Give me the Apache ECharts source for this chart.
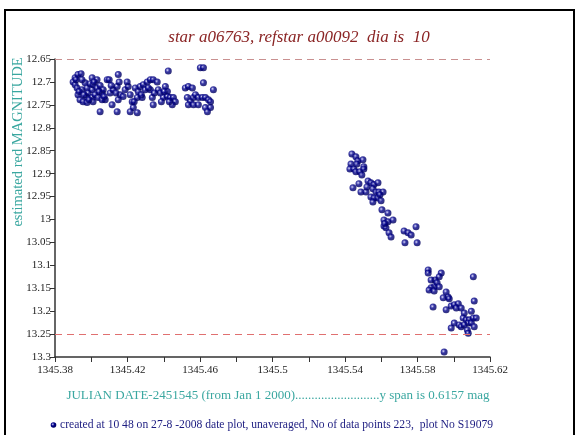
<!DOCTYPE html>
<html>
<head>
<meta charset="utf-8">
<script src="https://cdn.jsdelivr.net/npm/echarts@6/dist/echarts.min.js"></script>
<style>
	html, body { margin: 0; padding: 0; background: #fff; }
	#chart { width: 577px; height: 435px; }
</style>
</head>
<body>
<div id="chart"></div>
<script>
	// julian date - 2451545, estimated red magnitude
	var group1 = [
		[1345.3911,12.691],[1345.3927,12.684],[1345.3944,12.682],[1345.3900,12.700],[1345.3911,12.706],
		[1345.3922,12.713],[1345.3927,12.728],[1345.3949,12.717],[1345.3966,12.702],[1345.3977,12.713],
		[1345.3972,12.732],[1345.3983,12.724],[1345.3994,12.704],[1345.4005,12.717],[1345.4010,12.706],
		[1345.4005,12.734],[1345.4021,12.728],[1345.4032,12.713],[1345.4038,12.734],[1345.4049,12.708],
		[1345.4060,12.724],[1345.4066,12.717],[1345.4049,12.765],[1345.4077,12.739],[1345.4088,12.695],
		[1345.4099,12.695],[1345.4104,12.724],[1345.4121,12.717],[1345.4115,12.750],[1345.4143,12.710],
		[1345.4149,12.684],[1345.4154,12.700],[1345.4149,12.739],[1345.4143,12.765],[1345.4160,12.728],
		[1345.4187,12.717],[1345.4204,12.710],[1345.4215,12.728],[1345.4226,12.743],[1345.4232,12.756],
		[1345.4254,12.767],[1345.4243,12.713],[1345.4259,12.721],[1345.4270,12.710],[1345.4287,12.706],
		[1345.4298,12.717],[1345.4309,12.700],[1345.4326,12.695],[1345.4342,12.695],[1345.4364,12.700],
		[1345.4337,12.734],[1345.4342,12.750],[1345.4326,12.717],[1345.4370,12.717],[1345.4381,12.724],
		[1345.4409,12.710],[1345.4425,12.676],[1345.4420,12.721],[1345.4398,12.734],[1345.4420,12.732],
		[1345.4436,12.734],[1345.4453,12.734],[1345.4464,12.743],[1345.4447,12.750],[1345.4060,12.739],
		[1345.3938,12.739],[1345.3955,12.743],[1345.3977,12.745],[1345.4010,12.743],[1345.3949,12.695],
		[1345.4005,12.691],[1345.4032,12.695],[1345.4254,12.734],[1345.4281,12.734],[1345.4215,12.765],
		[1345.3916,12.695],[1345.3933,12.721],[1345.3960,12.728],[1345.3988,12.739],[1345.4016,12.700],
		[1345.4043,12.721],[1345.4071,12.732],[1345.4110,12.708],[1345.4137,12.724],[1345.4176,12.732],
		[1345.4198,12.700],[1345.4237,12.743],[1345.4276,12.728],[1345.4315,12.713],[1345.4348,12.724],
		[1345.4387,12.743],[1345.4403,12.721],[1345.4431,12.743]
	];
	var group2 = [
		[1345.4519,12.713],[1345.4536,12.710],[1345.4558,12.713],[1345.4530,12.734],[1345.4547,12.743],
		[1345.4564,12.734],[1345.4536,12.750],[1345.4564,12.750],[1345.4575,12.728],[1345.4591,12.734],
		[1345.4613,12.734],[1345.4630,12.734],[1345.4647,12.739],[1345.4602,12.669],[1345.4619,12.669],
		[1345.4619,12.702],[1345.4674,12.717],[1345.4630,12.756],[1345.4658,12.756],[1345.4641,12.765],
		[1345.4658,12.743],[1345.4591,12.750]
	];
	var group3 = [
		[1345.5438,12.857],[1345.5460,12.863],[1345.5471,12.872],[1345.5499,12.870],[1345.5433,12.879],
		[1345.5427,12.890],[1345.5449,12.890],[1345.5460,12.896],[1345.5482,12.896],[1345.5504,12.885],
		[1345.5493,12.903],[1345.5504,12.890],[1345.5444,12.931],[1345.5477,12.922],[1345.5488,12.940],
		[1345.5516,12.940],[1345.5527,12.916],[1345.5543,12.920],[1345.5560,12.924],[1345.5582,12.920],
		[1345.5554,12.933],[1345.5571,12.940],[1345.5587,12.940],[1345.5610,12.940],[1345.5543,12.951],
		[1345.5560,12.953],[1345.5554,12.962],[1345.5582,12.953],[1345.5599,12.959],[1345.5604,12.979],
		[1345.5637,12.986],[1345.5615,13.001],[1345.5637,13.005],[1345.5665,13.001],[1345.5615,13.014],
		[1345.5626,13.018],[1345.5643,13.029],[1345.5654,13.038],[1345.5726,13.025],[1345.5748,13.029],
		[1345.5765,13.034],[1345.5792,13.016],[1345.5731,13.051],[1345.5798,13.051],[1345.5466,12.879],
		[1345.5521,12.929],[1345.5593,12.946],[1345.5620,13.009]
	];
	var group4 = [
		[1345.5859,13.110],[1345.5859,13.117],[1345.5931,13.117],[1345.5920,13.125],[1345.5897,13.132],
		[1345.5875,13.132],[1345.5908,13.138],[1345.5892,13.147],[1345.5875,13.149],[1345.5920,13.147],
		[1345.5864,13.154],[1345.5892,13.156],[1345.5958,13.158],[1345.5969,13.169],[1345.5942,13.171],
		[1345.5975,13.173],[1345.5886,13.191],[1345.5958,13.197],[1345.5986,13.189],[1345.6003,13.186],
		[1345.6025,13.184],[1345.6014,13.193],[1345.6041,13.193],[1345.6058,13.204],[1345.6052,13.215],
		[1345.6069,13.219],[1345.6086,13.219],[1345.6108,13.215],[1345.6124,13.215],[1345.6097,13.200],
		[1345.6113,13.178],[1345.6108,13.125],[1345.6080,13.226],[1345.6097,13.226],[1345.6003,13.226],
		[1345.6030,13.230],[1345.6041,13.234],[1345.5986,13.237],[1345.6058,13.230],[1345.6113,13.234],
		[1345.6075,13.241],[1345.6080,13.248],[1345.5947,13.289]
	];
	var points = group1.concat(group2, group3, group4);

	var xTicks = [1345.38, 1345.62, 0.04];   // min, max, step
	var yTicks = [12.65, 13.3, 0.05];
	var limitLines = [12.65, 13.25];

	var serif = '"Liberation Serif","DejaVu Serif",serif';
	var teal = '#3aa7a0';
	var navy = '#1c1c80';

	var dotColor = new echarts.graphic.RadialGradient(0.38, 0.38, 0.65, [
		{ offset: 0, color: '#ffffff' },
		{ offset: 0.18, color: '#6a6ac8' },
		{ offset: 0.45, color: '#000088' },
		{ offset: 1, color: '#00005a' }
	]);

	var chart = echarts.init(document.getElementById('chart'));
	chart.setOption({
		animation: false,
		grid: { left: 55, right: 87, top: 59, bottom: 78 },
		title: {
			text: 'star a06763, refstar a00092  dia is  10',
			left: 294,
			top: 24,
			textAlign: 'center',
			textStyle: { color: '#8b2525', fontSize: 17, fontStyle: 'italic', fontWeight: 'normal', fontFamily: serif }
		},
		xAxis: {
			type: 'value',
			min: xTicks[0],
			max: xTicks[1],
			interval: xTicks[2],
			axisLine: { lineStyle: { color: '#333', width: 1.5 } },
			axisTick: { length: 5, lineStyle: { color: '#333' } },
			minorTick: { show: true, splitNumber: 2, length: 5, lineStyle: { color: '#333' } },
			splitLine: { show: false },
			axisLabel: {
				margin: 8,
				color: '#222',
				fontSize: 11,
				fontFamily: serif,
				formatter: function (v) { return String(+v.toFixed(2)); }
			}
		},
		yAxis: {
			type: 'value',
			inverse: true,
			min: yTicks[0],
			max: yTicks[1],
			interval: yTicks[2],
			axisLine: { show: true, onZero: false, lineStyle: { color: '#333', width: 1.5 } },
			axisTick: { show: true, length: 5, lineStyle: { color: '#333' } },
			splitLine: { show: false },
			axisLabel: {
				margin: 4,
				color: '#222',
				fontSize: 11,
				fontFamily: serif,
				formatter: function (v) { return String(+v.toFixed(2)); }
			}
		},
		series: [{
			type: 'scatter',
			data: points,
			symbolSize: 7,
			itemStyle: { color: dotColor },
			markLine: {
				silent: true,
				symbol: 'none',
				label: { show: false },
				data: [
					{ yAxis: limitLines[0], lineStyle: { color: '#c99090', type: [7, 5], width: 1 } },
					{ yAxis: limitLines[1], lineStyle: { color: '#e07070', type: [7, 5], width: 1 } }
				]
			}
		}],
		graphic: [
			{
				type: 'rect',
				shape: { x: 5, y: 10, width: 569, height: 440 },
				style: { fill: 'none', stroke: '#000', lineWidth: 2 },
				silent: true
			},
			{
				type: 'text',
				x: 18, y: 142,
				rotation: Math.PI / 2,
				style: {
					text: 'estimated red MAGNITUDE',
					fill: teal, fontSize: 14.5, fontFamily: serif,
					textAlign: 'center', textVerticalAlign: 'middle'
				}
			},
			{
				type: 'text',
				x: 278, y: 396,
				style: {
					text: 'JULIAN DATE-2451545 (from Jan 1 2000)..........................y span is 0.6157 mag',
					fill: teal, fontSize: 13, fontFamily: serif,
					textAlign: 'center', textVerticalAlign: 'middle'
				}
			},
			{
				type: 'circle',
				shape: { cx: 53.5, cy: 425, r: 2.8 },
				style: { fill: dotColor }
			},
			{
				type: 'text',
				x: 60, y: 425,
				style: {
					text: 'created at 10 48 on 27-8 -2008 date plot, unaveraged, No of data points 223,  plot No S19079',
					fill: navy, fontSize: 11.6, fontFamily: serif,
					textAlign: 'left', textVerticalAlign: 'middle'
				}
			}
		]
	});
</script>
</body>
</html>
